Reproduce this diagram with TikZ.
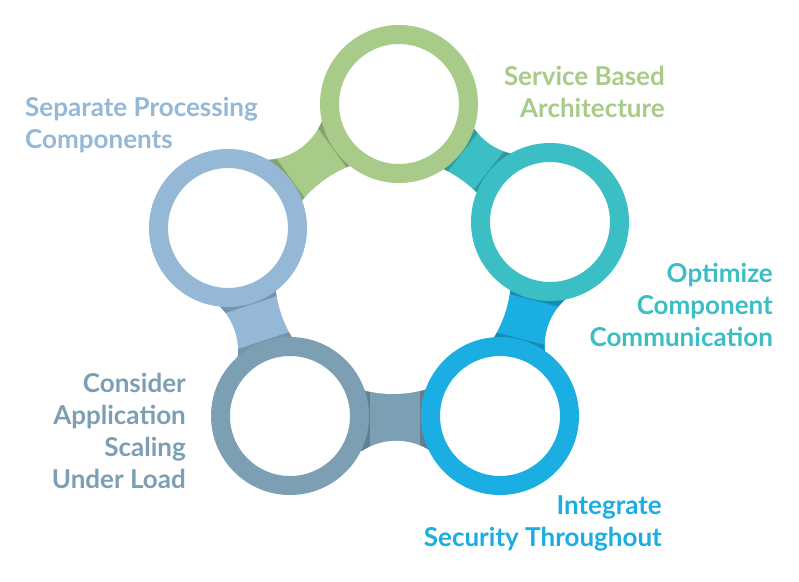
\documentclass[tikz,border=0pt]{standalone}
\usepackage{fontspec}
\setmainfont{Lato}[UprightFont=* Bold]
\usetikzlibrary{calc}
\definecolor{cg}{HTML}{A8CB8A}
\definecolor{ct}{HTML}{3BBFC4}
\definecolor{cb}{HTML}{1AAEE3}
\definecolor{cs}{HTML}{7D9FB3}
\definecolor{cl}{HTML}{94B8D6}
\tikzset{ring/.style={draw=#1,line width=19pt,fill=white,circle,minimum size=139pt,inner sep=0pt},
 lab/.style={text=#1,font=\fontsize{26}{32}\selectfont,inner sep=0pt}}
\begin{document}
\begin{tikzpicture}[x=1pt,y=-1pt]
\useasboundingbox[fill=white] (0,0) rectangle (799,581);
\coordinate (c) at (393,276);
\coordinate (pg) at (399,104);
\coordinate (pt) at (550,222);
\coordinate (pb) at (500,416);
\coordinate (ps) at (290,416);
\coordinate (pl) at (228,228);
\foreach \a/\b/\col in {pl/pg/cg, pg/pt/ct, pt/pb/cb, pb/ps/cs, ps/pl/cl}{
  \draw[\col!80!black,line width=70pt] (\a) -- (\b);
  \draw[\col,line width=70pt,shorten <=80pt,shorten >=80pt] (\a) -- (\b);
}
\fill[white] (c) circle (118);
\foreach \a/\b in {pl/pg, pg/pt, pt/pb, pb/ps, ps/pl}{
  \fill[white] ($(c)!1.62!($(\a)!0.5!(\b)$)$) circle (62);
}
\node[ring=cg] (g) at (pg) {};
\node[ring=ct] (t) at (pt) {};
\node[ring=cb] (b) at (pb) {};
\node[ring=cs] (s) at (ps) {};
\node[ring=cl] (l) at (pl) {};
\node[lab=cg,align=right,anchor=north east] (tg) at (665,66) {Service Based\\Architecture};
\node[lab=cl,align=left,anchor=north west] (tl) at (25,97) {Separate Processing\\Components};
\node[lab=ct,align=right,anchor=north east] (tt) at (773,263) {Optimize\\Component\\Communication};
\node[lab=cs,align=right,anchor=north east] (ts) at (186,373) {Consider\\Application\\Scaling\\Under Load};
\node[lab=cb,align=right,anchor=north east] (tb) at (662,495) {Integrate\\Security Throughout};
\end{tikzpicture}
\end{document}
